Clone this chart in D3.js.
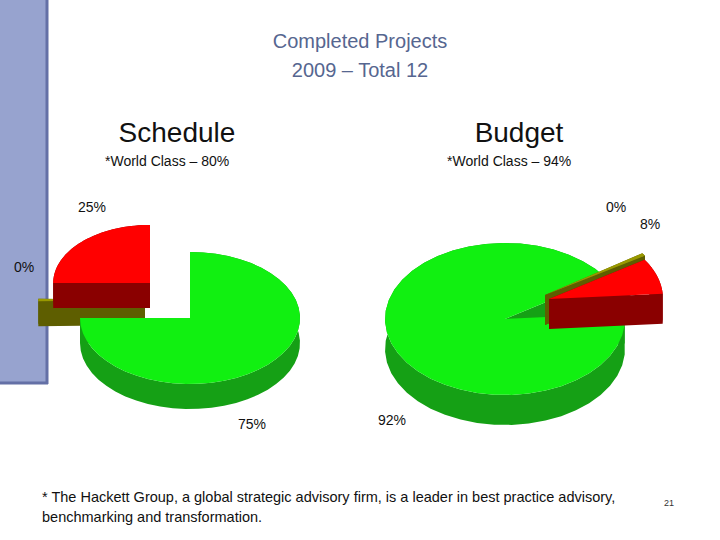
<!DOCTYPE html>
<html><head><meta charset="utf-8">
<script src="https://cdn.jsdelivr.net/npm/d3@7"></script>
<style>body{margin:0;background:#fff}</style></head>
<body><svg id="c" width="720" height="540"></svg>
<script>
const categories = ["On/Under", "Zero", "Over"];
const scheduleValues = [75, 0, 25];
const scheduleLabels = ["75%", "0%", "25%"];
const budgetValues = [0, 8, 92];
const budgetLabels = ["0%", "8%", "92%"];
const budgetCats = ["Zero", "Over", "On/Under"];

const svg = d3.select("#c");
svg.append("rect").attr("x",0).attr("y",0).attr("width",47).attr("height",383).attr("fill","#97a3cf");
svg.append("line").attr("x1",47).attr("x2",47).attr("y1",0).attr("y2",384).attr("stroke","#6470a6").attr("stroke-width",3);
svg.append("line").attr("x1",0).attr("x2",48).attr("y1",383).attr("y2",383).attr("stroke","#6470a6").attr("stroke-width",3);

const tc="#566690";
svg.append("text").attr("x",360).attr("y",48).attr("text-anchor","middle").attr("font-family","Liberation Sans, Arial").attr("font-size",20).attr("fill",tc).text("Completed Projects");
svg.append("text").attr("x",360).attr("y",77).attr("text-anchor","middle").attr("font-family","Liberation Sans, Arial").attr("font-size",20).attr("fill",tc).text("2009 – Total 12");

function t(x,y,s,size,anchor){svg.append("text").attr("x",x).attr("y",y).attr("font-family","Liberation Sans, Arial").attr("font-size",size).attr("text-anchor",anchor||"start").attr("fill","#111").text(s);}
t(177,142,"Schedule",28,"middle"); t(519,142,"Budget",28,"middle");
t(105,166,"*World Class – 80%",14); t(447,166,"*World Class – 94%",14);

const colors = {"On/Under":["#11f011","#15a015"],"Zero":["#999900","#5e5e00"],"Over":["#ff0000","#8a0000"]};

function pie3d(cfg){
  const arcs = d3.pie().sort(null).startAngle(cfg.start).endAngle(cfg.start+2*Math.PI).value(d=>d)(cfg.values);
  const items = arcs.map((a,i)=>{
    let a0=a.startAngle,a1=a.endAngle;
    if(a1-a0<0.04){a0-=0.02;a1+=0.02;}
    const o=cfg.offsets[i];
    return {a0,a1,cx:cfg.cx+o[0],cy:cfg.cy+o[1],cat:cfg.cats[i],r:cfg.rs[i]};
  });
  cfg.order.forEach(i=>{
    const it=items[i], rx=cfg.rx*it.r, ry=cfg.ry*it.r, d=cfg.depth;
    const P=(a,dy)=>[it.cx+rx*Math.sin(a), it.cy-ry*Math.cos(a)+dy];
    const ang=d3.range(0,41).map(k=>it.a0+(it.a1-it.a0)*k/40);
    const g=svg.append("g");
    const [top,side]=colors[it.cat];
    const line=d3.line();
    const wall=ang.map(a=>P(a,0)).concat(ang.slice().reverse().map(a=>P(a,d)));
    g.append("path").attr("d",line(wall)+"Z").attr("fill",side);
    [it.a0,it.a1].forEach(a=>{
      g.append("path").attr("d",line([[it.cx,it.cy],P(a,0),P(a,d),[it.cx,it.cy+d]])+"Z").attr("fill",side);
    });
    g.append("path").attr("d",line([[it.cx,it.cy]].concat(ang.map(a=>P(a,0))))+"Z").attr("fill",top);
  });
}

pie3d({values:scheduleValues,cats:categories,start:0,cx:190,cy:318,rx:110,ry:66,depth:25,
  offsets:[[0,0],[-45,-18],[-40,-35]],rs:[1,0.97,0.88],order:[1,2,0]});
pie3d({values:budgetValues,cats:budgetCats,start:57*Math.PI/180,cx:505,cy:319,rx:120,ry:76,depth:30,
  offsets:[[40,-24],[44,-20],[0,0]],rs:[0.98,0.95,1],order:[2,0,1]});

t(78,212,scheduleLabels[2],14); t(14,272,scheduleLabels[1],14); t(238,429,scheduleLabels[0],14);
t(606,212,budgetLabels[0],14); t(640,229,budgetLabels[1],14); t(378,425,budgetLabels[2],14);

t(42,502,"* The Hackett Group, a global strategic advisory firm, is a leader in best practice advisory,",14.5);
t(42,522,"benchmarking and transformation.",14.5);
svg.append("text").attr("x",664).attr("y",506).attr("font-family","Liberation Sans, Arial").attr("font-size",9).attr("fill","#333").text("21");
</script></body></html>
